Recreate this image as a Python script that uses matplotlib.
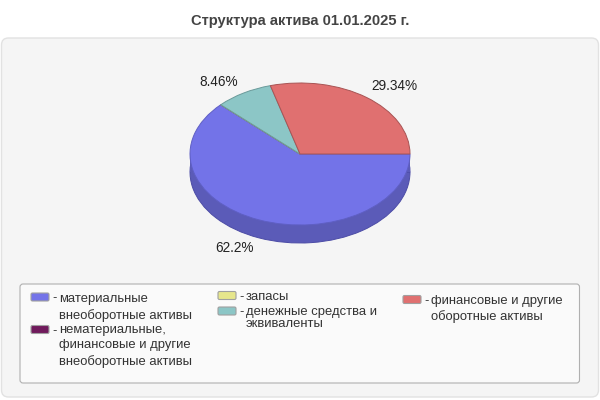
import matplotlib

matplotlib.use("Agg")
import matplotlib.pyplot as plt
from matplotlib.patches import FancyBboxPatch, Rectangle

plt.rcParams["font.family"] = ["Liberation Sans", "DejaVu Sans"]

TITLE = "Структура актива 01.01.2025 г."
VALUES = [62.2, 0, 0, 8.46, 29.34]
COLORS = ["#7373e8", "#701a5c", "#e6e68c", "#8cc6c6", "#e07070"]
EDGES = ["#5f5fc4", "#5a1549", "#b8b870", "#6a9a9a", "#a85454"]
SIDE = "#5b5bb8"
LEGEND = [
    "материальные\nвнеоборотные активы",
    "нематериальные,\nфинансовые и другие\nвнеоборотные активы",
    "запасы",
    "денежные средства и\nэквиваленты",
    "финансовые и другие\nоборотные активы",
]

W, H = 600, 400
fig = plt.figure(figsize=(W / 100, H / 100), dpi=100, facecolor="white")

# pixel-coordinate layer for panel, legend and text
bg = fig.add_axes([0, 0, 1, 1])
bg.set_xlim(0, W)
bg.set_ylim(H, 0)
bg.axis("off")

bg.add_patch(FancyBboxPatch((1.5, 38), 597, 359, boxstyle="round,pad=0,rounding_size=7",
                            fc="#f5f5f5", ec="#e2e2e2", lw=1))
bg.text(300, 21, TITLE, ha="center", va="center", fontsize=10.6, fontweight="bold",
        color="#444444")

# pie: ellipse centre (300, 154), rx 110, ry 71, wall depth 18
cx, cy, rx, ry, depth = 300, 154, 110, 71, 18
ax = fig.add_axes([(cx - rx) / W, 1 - (cy + ry) / H, 2 * rx / W, 2 * ry / H], zorder=2)
ax.patch.set_alpha(0)
d = depth / ry
ax.pie(VALUES, colors=[SIDE] * 5, center=(0, -d), startangle=0, counterclock=False,
       radius=1, wedgeprops={"ec": "#4c4ca6", "lw": 0.7}, frame=False, normalize=True)
ax.add_patch(Rectangle((-1, -d), 2, d, fc=SIDE, ec="none"))
wedges, _ = ax.pie(VALUES, colors=COLORS, startangle=0, counterclock=False, radius=1,
                   normalize=True)
for w, e in zip(wedges, EDGES):
    w.set_edgecolor(e)
    w.set_linewidth(0.7)
ax.set_aspect("auto")
ax.set_xlim(-1, 1)
ax.set_ylim(-1, 1)
ax.axis("off")
for a in ax.patches:
    a.set_clip_on(False)

# slice labels
for v, (x, y) in ((VALUES[3], (218.5, 81.5)), (VALUES[4], (394.5, 86.5)), (VALUES[0], (235, 247.5))):
    bg.text(x, y, f"{v:g}%", ha="center", va="center", fontsize=9.8, color="#222222")

# legend
bg.add_patch(FancyBboxPatch((20, 284), 559.5, 99, boxstyle="round,pad=0,rounding_size=3",
                            fc="#fafafa", ec="#b0b0b0", lw=0.8))
positions = [(31, 297), (31, 329.5), (218, 295.5), (218, 311), (403, 299.5)]
text_tops = [293.3, 324.3, 291, 305.7, 295]
spacing = [1.35, 1.35, 1.35, 1.0, 1.35]
for label, c, (x, y), top, sp in zip(LEGEND, COLORS, positions, text_tops, spacing):
    bg.add_patch(FancyBboxPatch((x, y - 4), 18, 8, boxstyle="round,pad=0,rounding_size=1.5",
                                fc=c, ec="#a0a0a0", lw=0.8))
    bg.text(x + 21, y + 1.5, "-", ha="left", va="center", fontsize=9.4, color="#333333")
    bg.text(x + 28, top, label, ha="left", va="top", fontsize=9.4, color="#333333",
            linespacing=sp)

fig.savefig("out.png", dpi=100)
